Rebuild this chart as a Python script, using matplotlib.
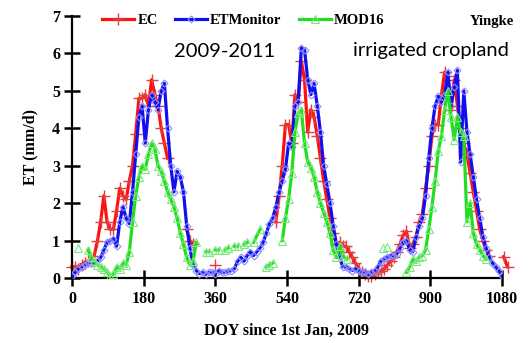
import numpy as np
import matplotlib
matplotlib.use("Agg")
import matplotlib.pyplot as plt

nan = np.nan

# ETMonitor, 8-day steps from 1 Jan 2009
etm_doy = np.arange(0, 1081, 8)
etm_et = [0.05, 0.15, 0.25, 0.3, 0.35, 0.4, 0.4, 0.4, 0.45, 0.55,
          0.75, 0.95, 1.0, 1.05, 0.85, 1.5, 1.9, 1.6, 1.45, 2.3,
          3.3, 4.3, 4.6, 3.6, 4.5, 4.9, 4.7, 4.5, 5.0, 5.2,
          4.0, 3.0, 2.3, 2.85, 2.7, 2.3, 1.4, 0.8, 0.35, 0.2,
          0.12, 0.15, 0.1, 0.15, 0.15, 0.12, 0.2, 0.15, 0.15, 0.18,
          0.2, 0.25, 0.45, 0.55, 0.45, 0.6, 0.7, 0.6, 0.7, 0.8,
          0.95, 1.2, 1.45, 1.6, 1.9, 2.3, 2.6, 2.9, 3.6, 3.5,
          4.6, 4.7, 6.15, 6.1, 5.3, 4.9, 5.2, 4.6, 3.9, 3.0,
          2.5, 2.0, 1.4, 0.9, 0.55, 0.3, 0.3, 0.25, 0.2, 0.25,
          0.2, 0.15, 0.15, 0.1, 0.15, 0.2, 0.3, 0.45, 0.5, 0.55,
          0.6, 0.6, 0.65, 0.8, 0.95, 1.0, 0.75, 0.7, 1.1, 1.4,
          1.6, 2.2, 3.2, 4.0, 4.6, 4.85, 4.7, 4.9, 5.5, 4.6,
          5.1, 5.55, 3.1, 5.0, 3.9, 3.3, 2.7, 2.1, 1.6, 1.1,
          0.8, 0.55, 0.4, 0.3, 0.2, 0.05]

# EC flux tower, gaps left as nan
ec_doy = [0, 8, 16, 24, 32, 40, 48, 56, 64, 72, 80, 88, 96, 104, 112, 120,
          128, 136, 144, 152, 160, 168, 176, 184, 192, 200, 208, 216, 224,
          232, 240, 248, 288, 296, 304, 330, 359, 400,
          512, 520, 528, 536, 544, 552, 560, 568, 576, 584, 592, 600, 608,
          616, 624, 632, 640, 648, 656, 664, 672, 680, 688, 696, 704, 712,
          720, 728, 736, 744, 752, 760, 768, 776, 784, 792, 800, 808, 816,
          824, 832, 840, 848, 856, 864, 872, 880, 888, 896, 904, 912, 920,
          928, 936, 944, 952, 960, 968, 976, 984, 992, 1000, 1008, 1016,
          1024, 1032, 1040, 1048, 1060, 1084, 1094]
ec_et = [0.3, 0.3, 0.25, 0.35, 0.4, 0.45, 0.45, 0.6, 1.0, 1.5, 2.2, 1.5,
         1.3, 1.3, 1.8, 2.4, 2.2, 2.1, 2.6, 3.0, 3.85, 4.8, 4.8, 4.9, 4.6,
         5.3, 4.9, 4.6, 4.0, 3.6, 3.2, nan, 1.3, 1.0, 0.9, nan, 0.35, nan,
         1.5, 2.2, 3.0, 4.1, 4.1, 3.6, 4.9, 4.7, 5.8, 5.3, 3.9, 4.5, 4.3,
         3.8, 3.2, 2.6, 2.1, 1.6, 1.2, 0.9, 0.95, 0.85, 0.85, 0.7, 0.55,
         0.4, 0.25, 0.15, 0.1, 0.05, 0.05, 0.1, 0.15, 0.2, 0.25, 0.35, 0.45,
         0.55, 0.7, 0.9, 1.15, 1.25, 0.8, 0.9, 1.1, 1.5, 1.7, 2.4, 3.0, 3.8,
         4.1, 4.1, 4.9, 5.5, 5.4, 4.5, 5.3, 4.6, 4.0, 3.6, 3.3, 2.8, 2.3,
         1.8, 1.3, 1.0, 0.75, 0.6, nan, 0.57, 0.3]

# MOD16 8-day product
mod_doy = [16, 28, 40, 48, 56, 64, 72, 80, 88, 96, 104, 112, 120, 128, 136,
           144, 152, 160, 168, 176, 184, 192, 200, 208, 216, 224, 232, 240,
           248, 256, 264, 272, 280, 288, 296, 304, 312, 324,
           336, 344, 350, 360, 368, 376, 384, 392, 400, 408, 416, 424, 432,
           440, 448, 456, 472, 480, 488, 496, 504, 516,
           528, 536, 544, 552, 560, 568, 576, 584, 592, 600, 608, 616, 624,
           632, 640, 648, 656, 664, 672, 680, 690, 730, 781, 786, 791, 800,
           840, 848, 856, 864, 872, 880, 888, 896, 904, 912, 920, 928, 936,
           944, 952, 960, 968, 976, 984, 992, 1000, 1008, 1016, 1024, 1032,
           1040]
mod_et = [0.8, nan, 0.75, 0.55, 0.45, 0.35, 0.3, 0.25, 0.15, 0.05, 0.1, 0.3,
          0.25, 0.4, 0.35, 0.7, 1.5, 2.2, 2.7, 3.0, 2.9, 3.3, 3.6, 3.45, 3.0,
          2.85, 2.6, 2.3, 2.1, 1.9, 1.6, 1.2, 0.9, 0.55, 0.35, 0.45, 0.95,
          nan, 0.7, 0.7, nan, 0.75, 0.75, nan, 0.75, 0.8, nan, 0.85, 0.85,
          nan, 0.9, 0.95, nan, 0.95, 1.3, nan, 0.3, 0.35, 0.4, nan,
          1.0, 1.6, 2.1, 2.8, 3.9, 4.4, 4.5, 3.6, 3.1, 2.95, 2.7, 2.3, 2.0,
          1.75, 1.5, 1.2, 0.75, 0.55, 0.85, 0.6, 0.5, nan, 0.8, nan, 0.83, nan,
          0.15, 0.3, 0.5, 0.45, 0.55, 0.6, 0.75, 1.3, 1.9, 2.6, 3.4, 3.8,
          4.5, 5.0, 4.3, 3.7, 4.3, 3.9, 3.8, 1.5, 2.0, 1.2, 0.9, 0.75, 0.6,
          0.5]

serif = "Liberation Serif"

fig = plt.figure(figsize=(5.32, 3.43), dpi=100)
ax = fig.add_axes([72 / 532, 65 / 343, 430 / 532, 262 / 343])

ax.plot(ec_doy, ec_et, color="#ff1010", lw=2.3, marker="+", ms=8,
        mew=1.0, mec="#e04040", label="EC", clip_on=False, zorder=2)
ax.plot(etm_doy, etm_et, color="#1010ee", lw=2.3, marker="D", ms=3.5,
        mew=0.8, mfc="none", mec="#8c8cff", label="ETMonitor", zorder=3)
ax.plot(mod_doy, mod_et, color="#22dd22", lw=2.3, marker="^", ms=6,
        mew=0.8, mfc="none", mec="#7ce87c", label="MOD16", zorder=4)

ax.set_xlim(0, 1080)
ax.set_ylim(0, 7)
ax.set_xticks(range(0, 1081, 180))
ax.set_yticks(range(0, 8))
for s in ["top", "right"]:
    ax.spines[s].set_visible(False)
for s in ["left", "bottom"]:
    ax.spines[s].set_linewidth(1.6)
ax.tick_params(direction="inout", length=11, width=1.8, labelsize=11.5)
ax.tick_params(axis="x", pad=4)
ax.tick_params(axis="y", pad=3)
for lab in ax.get_xticklabels() + ax.get_yticklabels():
    lab.set_fontfamily(serif)
    lab.set_fontweight("bold")

ax.set_xlabel("DOY since 1st Jan, 2009", fontfamily=serif,
              fontweight="bold", fontsize=11.5, labelpad=11)
ax.set_ylabel("ET (mm/d)", fontfamily=serif, fontweight="bold",
              fontsize=11.5, labelpad=10)

ax.legend(loc="upper left", bbox_to_anchor=(0.04, 1.06), ncol=3,
          frameon=False, handlelength=2.2, handletextpad=0.2,
          columnspacing=1.2,
          prop={"family": serif, "weight": "bold", "size": 10.5})
fig.text(470 / 532, 1 - 21 / 343, "Yingke", fontfamily=serif,
         fontweight="bold", fontsize=10.5, va="center", ha="left")

ax.text(384, 6.05, "2009-2011", fontfamily="Lato", fontsize=14.5,
        ha="center", va="center")
ax.text(902, 6.07, "irrigated cropland", fontfamily="Lato", fontsize=14.5,
        ha="center", va="center")

fig.savefig("out.png", dpi=100)
